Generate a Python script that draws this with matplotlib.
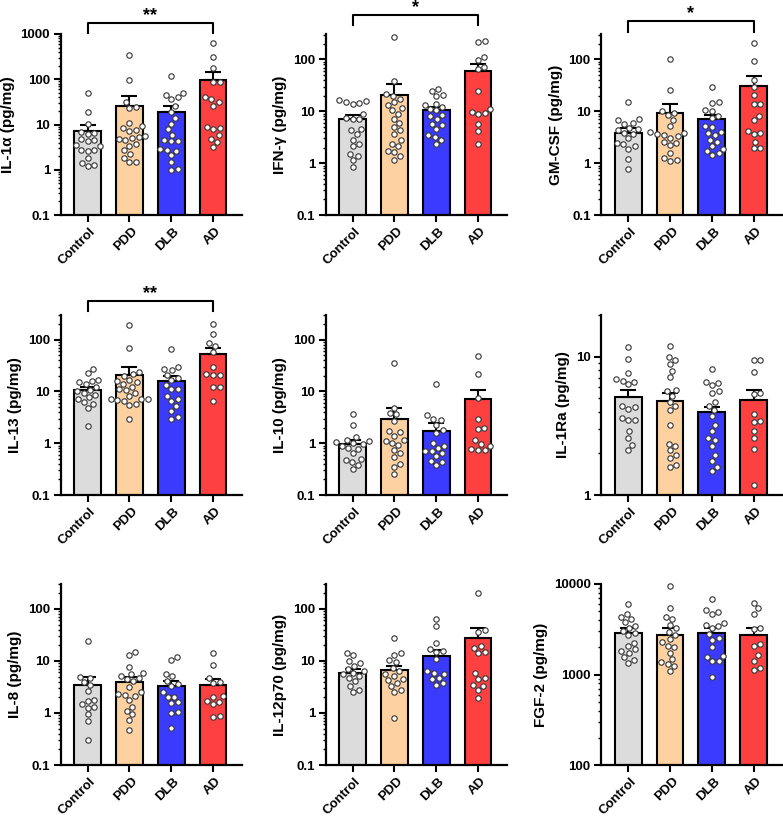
import numpy as np
import matplotlib
matplotlib.use('Agg')
import matplotlib.pyplot as plt
import matplotlib.transforms as mtrans
from matplotlib.ticker import LogLocator, FuncFormatter, NullFormatter

plt.rcParams['font.family'] = ['Liberation Sans', 'DejaVu Sans']
plt.rcParams['font.weight'] = 'bold'

groups = ['Control', 'PDD', 'DLB', 'AD']
colors = ['#DCDCDC', '#FDD2A0', '#3B3BFF', '#FF4040']

# ---------------- data (pg/mg) ----------------
il1a_control = [49, 19, 10.2, 6.8, 6.5, 6.3, 4.7, 4.5, 4.4, 3.5, 3.3, 2.8, 2.7, 2.6, 1.8, 1.4, 1.3, 1.2]
il1a_pdd = [345, 97, 31, 24, 23, 11, 9.3, 8.5, 7.6, 7.2, 5.6, 5.3, 5.0, 4.8, 4.5, 3.8, 3.4, 2.7, 2.2, 1.8, 1.5, 1.45]
il1a_dlb = [118, 49, 44, 41, 36, 25, 19, 14, 10.5, 7.8, 6, 4.5, 4.4, 4.3, 2.85, 2.7, 2.6, 2.1, 1.45, 1.05, 1.0]
il1a_ad = [620, 305, 174, 88, 86, 40, 36, 31, 26, 9, 8.2, 7.8, 5.8, 4.7, 4.2, 3.2]
il1a_mean = [7.2, 26, 19, 98]
il1a_sem = [2.8, 16, 7, 49]

ifng_control = [16.7, 16, 15, 14.5, 14, 9, 7.4, 7, 7, 4.6, 4.3, 3.6, 2.85, 2.3, 2.1, 1.5, 1.4, 1.15, 0.85]
ifng_pdd = [276, 39, 22, 20, 17, 15, 13, 11.5, 10.4, 9, 7.2, 6, 5, 4.3, 3.6, 2.75, 2.3, 2.1, 1.72, 1.65, 1.37, 1.15]
ifng_dlb = [27.4, 25, 21, 20, 14, 13.5, 12, 11.2, 10.4, 8.6, 8, 7.1, 5.8, 5.4, 4.6, 3.45, 3.2, 2.85, 2.3]
ifng_ad = [224, 222, 114, 98, 72, 66, 25, 11.2, 9.8, 9.3, 8.7, 5.7, 4.2, 2.3]
ifng_mean = [7, 20.4, 10.4, 60]
ifng_sem = [1.4, 13.6, 1.6, 23]

gmcsf_control = [14.9, 7, 6.7, 6, 5.8, 4.7, 4.5, 4.3, 3.8, 3.6, 3, 2.5, 2.3, 2.1, 1.9, 1.2, 0.76]
gmcsf_pdd = [100, 25.6, 10, 9.1, 8.4, 6.8, 5.2, 4, 3.8, 3.7, 3.5, 3.3, 3.1, 2.6, 2.5, 2.2, 1.6, 1.23, 1.15, 1.1]
gmcsf_dlb = [30, 15.3, 14.7, 10.8, 10, 8.1, 7.3, 5.2, 5, 4, 3.8, 3.5, 2.8, 2.6, 2.1, 1.9, 1.75, 1.55, 1.45]
gmcsf_ad = [212, 93, 40, 29, 20.5, 14, 13.7, 8.1, 6.8, 4.2, 3.75, 3.6, 2.6, 2, 1.95]
gmcsf_mean = [3.8, 9.1, 7, 30.5]
gmcsf_sem = [0.9, 4.9, 1.4, 16.5]

il13_control = [27, 23, 17, 16, 15.3, 13.8, 12.3, 10.9, 10, 9.4, 8.5, 7.8, 7, 6.3, 5.8, 4.9, 2.2]
il13_pdd = [190, 69, 24, 22, 20, 17, 16, 15.3, 14, 12.3, 11, 10.6, 9.5, 8.2, 7.2, 7.1, 7, 6.9, 6.6, 5.8, 5.5, 3.0]
il13_dlb = [67, 30, 27, 25.5, 21, 18.2, 16.5, 13.2, 11.3, 11, 8.1, 7, 6.5, 5.2, 4.2, 3.2, 3.0]
il13_ad = [200, 130, 87, 75, 57, 30, 22, 21, 20.5, 12, 12, 6.6]
il13_mean = [10.5, 21, 16, 52]
il13_sem = [1.8, 9, 4, 18]

il10_control = [3.6, 2.3, 1.3, 1.15, 1.1, 1.07, 1.0, 0.95, 0.9, 0.8, 0.78, 0.64, 0.5, 0.48, 0.44, 0.38, 0.32]
il10_pdd = [36, 4.9, 3.9, 3.6, 2.7, 1.7, 1.63, 1.4, 1.13, 1.1, 1.0, 0.93, 0.75, 0.65, 0.54, 0.4, 0.35, 0.25]
il10_dlb = [14.2, 3.5, 3.0, 2.8, 2.3, 1.8, 1.6, 1.0, 0.9, 0.8, 0.72, 0.7, 0.64, 0.56, 0.46, 0.44, 0.38]
il10_ad = [48, 22, 7.5, 3.0, 2.0, 1.85, 1.13, 0.97, 0.9, 0.78, 0.75, 0.75]
il10_mean = [0.97, 3.0, 1.74, 7.0]
il10_sem = [0.2, 1.7, 0.76, 3.8]

il1ra_control = [11.8, 9.6, 7.6, 6.9, 6.7, 6.6, 6.3, 4.4, 4.3, 4.2, 3.6, 3.5, 3.5, 2.9, 2.6, 2.3, 2.1]
il1ra_pdd = [12, 10, 9.5, 8.8, 7.9, 7.1, 5.7, 5.6, 5.2, 4.7, 4.4, 4.1, 3.2, 2.35, 2.25, 2.1, 1.95, 1.85, 1.65, 1.6]
il1ra_dlb = [8.2, 6.6, 6.5, 6.2, 5.6, 5.5, 4.7, 4.4, 4.1, 3.7, 3.2, 2.9, 2.6, 2.5, 2.26, 1.95, 1.77, 1.6, 1.5]
il1ra_ad = [9.5, 9.4, 7.8, 5.5, 5.4, 3.86, 3.4, 3.37, 2.9, 2.6, 2.14, 1.19]
il1ra_mean = [5.1, 4.76, 3.97, 4.88]
il1ra_sem = [0.65, 0.74, 0.39, 0.82]

il8_control = [24, 4.9, 4.7, 3.9, 3.4, 2.6, 1.77, 1.7, 1.47, 1.32, 1.26, 0.94, 0.7, 0.3]
il8_pdd = [14.8, 12.7, 7.7, 5.9, 5.5, 5.1, 4.7, 4.5, 4.1, 3.2, 2.5, 2.3, 2.2, 2.1, 1.77, 1.3, 1.1, 0.94, 0.72, 0.48]
il8_dlb = [12, 10.6, 5.7, 5.1, 4.2, 3.6, 3.3, 2.5, 2.05, 2.0, 1.6, 1.55, 1.04, 1.0, 0.52]
il8_ad = [13.9, 8.2, 4.7, 3.9, 3.7, 2.1, 2.0, 1.7, 1.65, 1.47, 0.88, 0.85]
il8_mean = [3.5, 3.9, 3.3, 3.5]
il8_sem = [1.5, 1.0, 0.8, 1.0]

il12_control = [14.4, 12.9, 10, 9, 8, 7, 6.3, 5.9, 5.5, 5.1, 4.7, 4.1, 3.3, 2.75, 2.5]
il12_pdd = [27, 14, 13, 10.4, 9.5, 7.2, 6.3, 5.5, 5.1, 4.5, 4.3, 3.8, 3.3, 2.75, 2.55, 0.79]
il12_dlb = [63, 47, 22.4, 16.7, 15.5, 14.5, 10.7, 6.3, 5.9, 5.5, 4.7, 4.4, 3.7, 3.5]
il12_ad = [204, 38.5, 36, 19.3, 18, 14.7, 14, 5.9, 4.7, 4.5, 3.4, 3.3, 2.75, 1.95]
il12_mean = [5.9, 6.6, 12.3, 27]
il12_sem = [1.0, 1.4, 3.7, 16]

fgf2_control = [6000, 4700, 4350, 4100, 3800, 3450, 3300, 3000, 2850, 2700, 2250, 2080, 1900, 1800, 1750, 1550, 1450, 1350]
fgf2_pdd = [9400, 5400, 4350, 4100, 3500, 3250, 2950, 2750, 2450, 2300, 2080, 2000, 1750, 1480, 1370, 1300, 1250, 1100]
fgf2_dlb = [6800, 5100, 4900, 4700, 3700, 3550, 3450, 3300, 2800, 2500, 2400, 2000, 1600, 1570, 1420, 1400, 940]
fgf2_ad = [6200, 5400, 4700, 3250, 3200, 2200, 2080, 1630, 1420, 1170, 1120]
fgf2_mean = [2900, 2750, 2850, 2700]
fgf2_sem = [400, 550, 450, 550]

ylabels = ['IL-1α (pg/mg)', 'IFN-γ (pg/mg)', 'GM-CSF (pg/mg)',
           'IL-13 (pg/mg)', 'IL-10 (pg/mg)', 'IL-1Ra (pg/mg)',
           'IL-8 (pg/mg)', 'IL-12p70 (pg/mg)', 'FGF-2 (pg/mg)']
significance = ['**', '*', '*', '**', '', '', '', '', '']

panel_points = [
    [il1a_control, il1a_pdd, il1a_dlb, il1a_ad],
    [ifng_control, ifng_pdd, ifng_dlb, ifng_ad],
    [gmcsf_control, gmcsf_pdd, gmcsf_dlb, gmcsf_ad],
    [il13_control, il13_pdd, il13_dlb, il13_ad],
    [il10_control, il10_pdd, il10_dlb, il10_ad],
    [il1ra_control, il1ra_pdd, il1ra_dlb, il1ra_ad],
    [il8_control, il8_pdd, il8_dlb, il8_ad],
    [il12_control, il12_pdd, il12_dlb, il12_ad],
    [fgf2_control, fgf2_pdd, fgf2_dlb, fgf2_ad],
]
panel_means = [il1a_mean, ifng_mean, gmcsf_mean, il13_mean, il10_mean,
               il1ra_mean, il8_mean, il12_mean, fgf2_mean]
panel_sems = [il1a_sem, ifng_sem, gmcsf_sem, il13_sem, il10_sem,
              il1ra_sem, il8_sem, il12_sem, fgf2_sem]

# ---------------- layout / style ----------------
W, H = 783, 818
fig = plt.figure(figsize=(W / 100, H / 100), dpi=100)
col_left = [60.5, 325.5, 601]
row_tb = [(34, 215), (315, 495), (584, 765)]
AX_W = 181
ylims = [(0.1, 1000), (0.1, 310), (0.1, 310), (0.1, 300), (0.1, 300),
         (1, 20), (0.1, 300), (0.1, 300), (100, 10000)]
# bracket (y_line_px, y_leg_bottom_px) for significant panels
brackets = {0: (23, 33), 1: (15, 25), 2: (21, 32), 3: (301, 311)}

xpos = np.arange(4)
XLIM = (-0.65, 3.68)


def fmt(v, pos):
    if v >= 1:
        return '%d' % round(v)
    return '%g' % v


def swarm(ypix, diam, step=0.4):
    ypix = np.asarray(ypix, float)
    order = np.argsort(ypix)
    placed = []
    xs = np.zeros(len(ypix))
    cands = [0.0]
    for k in range(1, 200):
        cands += [k * step, -k * step]
    for i in order:
        y = ypix[i]
        for c in cands:
            if all((c - px) ** 2 + (y - py) ** 2 >= diam ** 2 for px, py in placed):
                break
        xs[i] = c
        placed.append((c, y))
    return xs


for idx in range(9):
    r, c = divmod(idx, 3)
    top, bot = row_tb[r]
    left = col_left[c]
    ax = fig.add_axes([left / W, (H - bot) / H, AX_W / W, (bot - top) / H])
    ax.set_yscale('log')
    ax.set_ylim(*ylims[idx])
    ax.set_xlim(*XLIM)

    ax.bar(xpos, panel_means[idx], width=0.64, color=colors, edgecolor='black',
           linewidth=1.5, zorder=2)
    ax.errorbar(xpos, panel_means[idx],
                yerr=[np.zeros(4), panel_sems[idx]], fmt='none', ecolor='black',
                elinewidth=1.5, capsize=5.5, capthick=1.5, zorder=3)

    px_per_x = AX_W / (XLIM[1] - XLIM[0])
    for g in range(4):
        vals = np.asarray(panel_points[idx][g], float)
        ypix = ax.transData.transform(np.column_stack([np.zeros(len(vals)), vals]))[:, 1]
        offs = swarm(ypix, 6.6)
        ax.scatter(xpos[g] + offs / px_per_x, vals, s=15, facecolor='white',
                   edgecolor='#333333', linewidth=0.8, zorder=4, clip_on=False)

    for side in ['top', 'right']:
        ax.spines[side].set_visible(False)
    for side in ['left', 'bottom']:
        ax.spines[side].set_linewidth(1.6)

    ax.yaxis.set_major_locator(LogLocator(base=10, numticks=10))
    ax.yaxis.set_minor_locator(LogLocator(base=10, subs=np.arange(2, 10), numticks=20))
    ax.yaxis.set_major_formatter(FuncFormatter(fmt))
    ax.yaxis.set_minor_formatter(NullFormatter())
    ax.tick_params(axis='y', which='major', length=5, width=1.5, labelsize=9.5, pad=2.5)
    ax.tick_params(axis='y', which='minor', length=2.5, width=1.0)
    ax.tick_params(axis='x', which='major', length=5, width=1.5, pad=2.5)
    for lab in ax.get_yticklabels():
        lab.set_fontweight('bold')

    ax.set_xticks(xpos)
    ax.set_xticklabels(groups, rotation=45, ha='right', va='top',
                       rotation_mode='anchor', fontsize=9.5, fontweight='bold')
    shift = mtrans.ScaledTranslation(2 / 100, 0, fig.dpi_scale_trans)
    for lab in ax.get_xticklabels():
        lab.set_transform(lab.get_transform() + shift)
    ax.set_ylabel(ylabels[idx], fontsize=11, fontweight='bold', labelpad=4)

    if idx in brackets:
        yl, yb = brackets[idx]
        hpx = bot - top
        fy = (bot - yl) / hpx
        fb = (bot - yb) / hpx
        trans = ax.get_xaxis_transform()
        ax.plot([0, 0, 3, 3], [fb, fy, fy, fb], color='black', lw=1.5,
                transform=trans, clip_on=False)
        ax.text(1.5, fy + 2.5 / hpx, significance[idx], transform=trans, ha='center',
                va='baseline', fontsize=13, fontweight='bold')

fig.savefig('out.png', dpi=100)
